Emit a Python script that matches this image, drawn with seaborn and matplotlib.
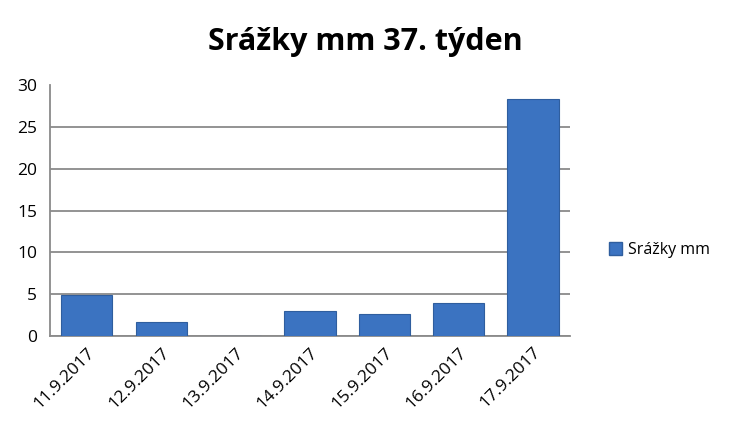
import numpy as np
import pandas as pd
import seaborn as sns
import matplotlib.pyplot as plt
from matplotlib.patches import Patch

dates = ["11.9.2017", "12.9.2017", "13.9.2017", "14.9.2017",
         "15.9.2017", "16.9.2017", "17.9.2017"]
srazky = [4.9, 1.7, 0.0, 3.0, 2.65, 3.9, 28.4]

df = pd.DataFrame({"Datum": dates, "Srážky mm": srazky})

sns.set_style("white")
plt.rcParams['font.family'] = ['Open Sans', 'DejaVu Sans']
plt.rcParams['text.color'] = 'black'
plt.rcParams['xtick.color'] = 'black'
plt.rcParams['ytick.color'] = 'black'

fig = plt.figure(figsize=(7.3, 4.37), dpi=100)
ax = fig.add_axes([0.068, 0.231, 0.713, 0.574])

bar_color = "#3B73C1"
sns.barplot(data=df, x="Datum", y="Srážky mm", color=bar_color,
            width=0.69, edgecolor="#2F5E9E", linewidth=0.8,
            saturation=1, ax=ax, zorder=3)

ax.set_ylim(0, 30)
ax.set_xlim(-0.5, len(dates) - 0.5)
ax.set_yticks(range(0, 31, 5))
for y in range(0, 30, 5):
    ax.axhline(y, color="#8a8a8a", lw=1.3, zorder=1)

# category ticks sit between the bars, like in a spreadsheet chart
ax.set_xticks(np.arange(-0.5, len(dates)), minor=True)
ax.tick_params(axis="x", which="minor", length=6, width=1.2, color="#8a8a8a")
ax.tick_params(axis="x", which="major", length=0, pad=6)
ax.tick_params(axis="y", length=5, width=1.2, color="#8a8a8a", pad=4)
ax.set_xticklabels(dates, rotation=45, ha="right", rotation_mode="anchor",
                   fontsize=12.5, color="black")
ax.set_yticklabels([str(v) for v in range(0, 31, 5)], fontsize=12.5,
                   color="black")

for s in ["top", "right"]:
    ax.spines[s].set_visible(False)
for s in ["left", "bottom"]:
    ax.spines[s].set_color("#8a8a8a")
    ax.spines[s].set_linewidth(1.3)

ax.set_xlabel("")
ax.set_ylabel("")

fig.text(0.5, 0.905, "Srážky mm 37. týden", ha="center", va="center",
         fontsize=22, fontweight="bold", color="black")

fig.legend(handles=[Patch(facecolor=bar_color, edgecolor="#2F5E9E")],
           labels=["Srážky mm"], loc="center left",
           bbox_to_anchor=(0.815, 0.428), frameon=False, fontsize=11.5,
           handlelength=0.8, handleheight=0.8, handletextpad=0.4)

plt.savefig("out.png", dpi=100)
